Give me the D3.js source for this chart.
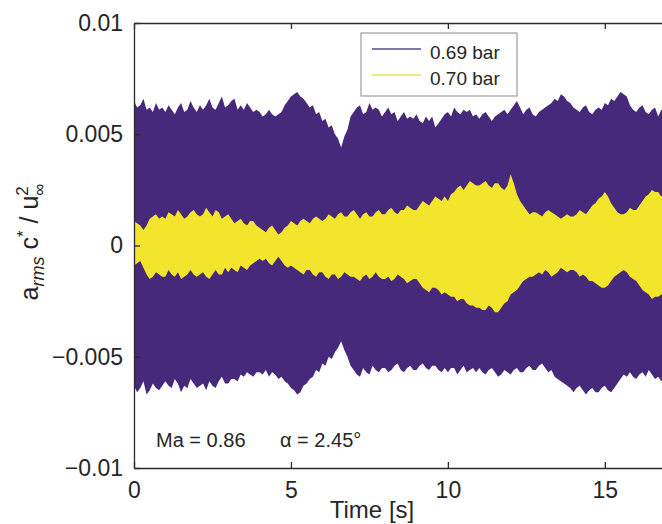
<!DOCTYPE html>
<html>
<head>
<meta charset="utf-8">
<script src="https://cdn.jsdelivr.net/npm/d3@7"></script>
<style>
  body { margin: 0; background: #fff; }
  svg { display: block; font-family: "Liberation Sans", Arial, sans-serif; }
</style>
</head>
<body>
<svg id="chart"></svg>
<script>
// envelope samples every 0.1 s, values in units of 1e-3 (a_rms c* / u^2)
const sampleStep = 0.1;
const valueUnit = 1e-3;

// 0.69 bar, upper / lower envelope (one row per second)
const upper069 = [
  6.5, 6.2, 6.3, 6.6, 6.1, 6.2, 6.0, 6.4, 6.1, 6.2,
  6.0, 6.3, 6.1, 5.9, 6.2, 6.4, 6.0, 6.1, 6.5, 6.2,
  6.0, 6.3, 6.1, 6.3, 6.6, 6.2, 6.1, 6.4, 6.7, 6.2,
  6.3, 6.5, 6.6, 6.1, 6.3, 6.1, 6.4, 6.2, 6.0, 6.1,
  6.0, 5.8, 5.9, 6.1, 5.9, 5.8, 5.9, 6.0, 6.3, 6.5,
  6.7, 6.8, 6.9, 6.7, 6.6, 6.4, 6.2, 6.3, 5.9, 6.0,
  5.6, 5.7, 5.3, 5.4, 5.0, 4.8, 4.4, 4.9, 5.2, 5.8,
  6.0, 6.2, 6.3, 5.9, 6.0, 6.4, 6.1, 6.2, 6.1, 5.8,
  6.0, 6.2, 5.9, 6.0, 5.6, 5.8, 6.0, 5.7, 5.8, 5.7,
  5.9, 5.6, 5.5, 5.8, 5.6, 5.8, 5.3, 5.5, 5.7, 5.9,
  6.0, 5.8, 6.2, 6.0, 5.9, 6.1, 6.0, 6.1, 5.8, 5.9,
  5.7, 5.9, 6.0, 5.8, 5.6, 5.8, 5.9, 6.0, 6.1, 5.9,
  6.1, 6.3, 6.5, 6.2, 5.9, 6.1, 6.2, 5.9, 5.8, 6.0,
  6.1, 6.2, 6.3, 6.4, 6.6, 6.5, 6.8, 6.7, 6.5, 6.4,
  6.2, 6.1, 6.0, 6.2, 6.3, 6.0, 5.9, 6.1, 6.2, 6.1,
  6.4, 6.3, 6.6, 6.5, 6.7, 6.9, 6.8, 6.7, 6.3, 6.1,
  6.0, 6.2, 6.3, 6.0, 5.9, 6.1, 6.2, 5.8, 6.1, 6.0,
  6.1];
const lower069 = [
  -6.3, -6.6, -6.4, -6.1, -6.7, -6.5, -6.2, -6.4, -6.5, -6.3,
  -6.1, -6.3, -6.4, -6.0, -6.2, -6.6, -6.3, -6.4, -6.0, -6.2,
  -6.4, -6.3, -6.2, -6.5, -6.1, -6.3, -6.4, -6.1, -5.9, -6.2,
  -6.2, -6.0, -6.0, -6.1, -5.8, -5.9, -5.7, -5.8, -5.9, -5.7,
  -5.7, -5.8, -5.6, -5.9, -5.7, -5.8, -6.0, -5.9, -6.1, -6.2,
  -6.4, -6.5, -6.7, -6.6, -6.3, -6.2, -6.0, -5.9, -5.6, -5.7,
  -5.3, -5.4, -5.0, -5.1, -4.8, -4.6, -4.3, -4.7, -5.0, -5.4,
  -5.6, -5.8, -5.9, -5.5, -5.7, -5.8, -5.4, -5.6, -5.7, -5.5,
  -5.5, -5.7, -5.6, -5.4, -5.3, -5.6, -5.7, -5.5, -5.4, -5.6,
  -5.6, -5.4, -5.3, -5.5, -5.6, -5.4, -5.4, -5.6, -5.7, -5.5,
  -5.7, -5.5, -5.5, -5.8, -5.6, -5.4, -5.7, -5.6, -5.5, -5.7,
  -5.5, -5.7, -5.8, -5.6, -5.5, -5.7, -5.9, -5.8, -5.6, -5.7,
  -5.8, -5.6, -5.5, -5.7, -5.7, -5.5, -5.4, -5.6, -5.6, -5.4,
  -5.3, -5.5, -5.7, -5.6, -5.9, -6.0, -6.1, -6.2, -6.3, -6.4,
  -6.6, -6.4, -6.3, -6.5, -6.7, -6.5, -6.4, -6.6, -6.6, -6.4,
  -6.3, -6.5, -6.6, -6.4, -6.2, -6.0, -5.8, -5.9, -5.7, -5.9,
  -6.0, -5.8, -5.7, -5.9, -5.6, -5.8, -6.0, -5.9, -6.1, -5.9,
  -6.0];

// 0.70 bar, upper / lower envelope
const upper070 = [
  1.1, 1.0, 0.9, 0.7, 0.9, 1.2, 1.3, 1.4, 1.2, 1.3,
  1.2, 1.5, 1.4, 1.3, 1.6, 1.4, 1.2, 1.3, 1.5, 1.6,
  1.4, 1.3, 1.4, 1.7, 1.5, 1.3, 1.6, 1.5, 1.2, 1.3,
  1.4, 1.2, 1.0, 1.1, 1.2, 1.0, 0.9, 1.1, 1.1, 0.9,
  0.8, 0.7, 0.6, 0.8, 0.9, 0.7, 0.5, 0.6, 0.8, 0.9,
  1.1, 1.0, 0.9, 1.1, 1.2, 1.1, 1.0, 1.2, 1.3, 1.2,
  1.1, 1.2, 1.4, 1.3, 1.2, 1.4, 1.5, 1.3, 1.3, 1.5,
  1.6, 1.4, 1.2, 1.4, 1.5, 1.3, 1.3, 1.5, 1.6, 1.4,
  1.4, 1.6, 1.7, 1.5, 1.4, 1.6, 1.6, 1.8, 1.7, 1.6,
  1.6, 1.8, 2.0, 1.9, 1.8, 2.0, 2.2, 2.1, 2.0, 2.2,
  2.0, 2.3, 2.4, 2.6, 2.7, 2.5, 2.7, 2.9, 2.8, 2.7,
  2.7, 2.8, 2.9, 2.7, 2.6, 2.8, 2.8, 2.6, 2.5, 2.7,
  3.2, 2.8, 2.3, 2.0, 1.8, 1.6, 1.4, 1.5, 1.5, 1.4,
  1.3, 1.5, 1.6, 1.5, 1.4, 1.3, 1.2, 1.3, 1.4, 1.3,
  1.3, 1.4, 1.6, 1.5, 1.4, 1.6, 1.8, 1.9, 2.1, 2.2,
  2.4, 2.2, 1.9, 1.7, 1.5, 1.4, 1.4, 1.5, 1.7, 1.6,
  1.6, 1.8, 2.0, 2.2, 2.3, 2.5, 2.4, 2.4, 2.2, 2.3,
  2.2];
const lower070 = [
  -0.9, -0.8, -0.7, -1.0, -1.3, -1.5, -1.4, -1.2, -1.3, -1.4,
  -1.4, -1.1, -1.3, -1.4, -1.2, -1.5, -1.4, -1.3, -1.1, -1.3,
  -1.4, -1.3, -1.2, -1.4, -1.5, -1.3, -1.1, -1.3, -1.3, -1.0,
  -1.2, -1.0, -1.1, -1.2, -0.9, -1.0, -1.1, -0.9, -0.8, -0.7,
  -0.6, -0.7, -0.6, -0.8, -0.9, -0.7, -0.5, -0.7, -0.9, -1.0,
  -0.9, -1.0, -1.1, -1.2, -1.3, -1.1, -1.1, -1.3, -1.4, -1.2,
  -1.2, -1.4, -1.5, -1.3, -1.3, -1.5, -1.4, -1.2, -1.3, -1.4,
  -1.4, -1.5, -1.6, -1.4, -1.3, -1.5, -1.4, -1.2, -1.4, -1.5,
  -1.5, -1.4, -1.6, -1.5, -1.3, -1.4, -1.5, -1.7, -1.6, -1.5,
  -1.5, -1.7, -1.9, -2.0, -2.1, -1.9, -1.9, -2.0, -2.2, -2.1,
  -2.2, -2.3, -2.3, -2.5, -2.4, -2.4, -2.6, -2.7, -2.7, -2.8,
  -2.8, -2.9, -2.9, -2.7, -2.8, -3.0, -3.0, -2.8, -2.6, -2.5,
  -2.2, -2.1, -2.0, -1.8, -1.6, -1.5, -1.4, -1.4, -1.3, -1.2,
  -1.3, -1.1, -1.2, -1.4, -1.3, -1.2, -1.0, -1.1, -1.2, -1.1,
  -1.1, -1.2, -1.4, -1.3, -1.4, -1.6, -1.6, -1.7, -1.8, -1.9,
  -1.9, -1.8, -1.6, -1.4, -1.3, -1.2, -1.1, -1.2, -1.4, -1.5,
  -1.6, -1.8, -2.0, -2.1, -2.2, -2.4, -2.3, -2.3, -2.2, -2.1,
  -2.1];

const seriesNames = ['0.69 bar', '0.70 bar'];
const seriesColors = ['#47297c', '#f3e42c'];
const legendLineColors = ['#7f78aa', '#eeea84'];

const xTicks = [0, 5, 10, 15];
const yTicks = [-0.01, -0.005, 0, 0.005, 0.01];
const yTickLabels = ['\u22120.01', '\u22120.005', '0', '0.005', '0.01'];

class EnvelopeChart {
  constructor(_config) {
    this.config = {
      parentElement: _config.parentElement,
      containerWidth: _config.containerWidth || 662,
      containerHeight: _config.containerHeight || 524,
      margin: _config.margin || {top: 23, left: 134, bottom: 56},
      plotWidth: _config.plotWidth || 565
    };
    this.initVis();
  }

  initVis() {
    let vis = this;
    const c = vis.config;
    vis.height = c.containerHeight - c.margin.top - c.margin.bottom;
    vis.width = c.plotWidth;

    vis.svg = d3.select(c.parentElement)
      .attr('width', c.containerWidth)
      .attr('height', c.containerHeight);

    vis.xScale = d3.scaleLinear().domain([0, 18]).range([0, vis.width]);
    vis.yScale = d3.scaleLinear().domain([-0.01, 0.01]).range([vis.height, 0]);

    vis.chart = vis.svg.append('g')
      .attr('transform', `translate(${c.margin.left},${c.margin.top})`);

    vis.svg.append('defs').append('clipPath').attr('id', 'plot-clip')
      .append('rect').attr('width', vis.width).attr('height', vis.height);

    vis.renderVis();
  }

  renderVis() {
    let vis = this;
    const area = d3.area()
      .x((d, i) => vis.xScale(i * sampleStep))
      .y0(d => vis.yScale(d[0] * valueUnit))
      .y1(d => vis.yScale(d[1] * valueUnit));

    const series = [d3.zip(lower069, upper069), d3.zip(lower070, upper070)];

    vis.chart.append('g').attr('clip-path', 'url(#plot-clip)')
      .selectAll('.band')
      .data(series)
      .join('path')
      .attr('class', 'band')
      .attr('d', area)
      .attr('fill', (d, i) => seriesColors[i]);

    // axes, MATLAB style: ticks pointing inwards
    const axisColor = '#2a2a2a';
    const xAxis = d3.axisBottom(vis.xScale).tickValues(xTicks).tickFormat(d3.format('d'))
      .tickSizeInner(-6).tickSizeOuter(0).tickPadding(14);
    const xAxisTop = d3.axisTop(vis.xScale).tickValues(xTicks).tickFormat('')
      .tickSizeInner(-6).tickSizeOuter(0);
    const yAxis = d3.axisLeft(vis.yScale).tickValues(yTicks)
      .tickFormat((d, i) => yTickLabels[i])
      .tickSizeInner(-6).tickSizeOuter(0).tickPadding(11);

    const xg = vis.chart.append('g').attr('transform', `translate(0,${vis.height})`).call(xAxis);
    const xtg = vis.chart.append('g').call(xAxisTop);
    const yg = vis.chart.append('g').call(yAxis);

    [xg, xtg, yg].forEach(g => {
      g.selectAll('path, line').attr('stroke', axisColor).attr('stroke-width', 1.3);
      g.selectAll('text').attr('fill', '#262626')
        .style('font-size', '23px').style('font-family', '"Liberation Sans", Arial, sans-serif');
    });

    // axis titles
    vis.svg.append('text')
      .attr('x', 372).attr('y', 518)
      .attr('text-anchor', 'middle')
      .attr('fill', '#262626')
      .style('font-size', '24px')
      .text('Time [s]');

    const yTitle = vis.svg.append('text')
      .attr('transform', 'translate(38,242) rotate(-90)')
      .attr('text-anchor', 'middle')
      .attr('fill', '#262626')
      .style('font-size', '25px');
    yTitle.append('tspan').text('a');
    yTitle.append('tspan').attr('dy', 6).style('font-size', '18px').style('font-style', 'italic').text('rms');
    yTitle.append('tspan').attr('dy', -6).text(' c');
    yTitle.append('tspan').attr('dy', -9).style('font-size', '17px').text('*');
    yTitle.append('tspan').attr('dy', 9).text(' / u');
    yTitle.append('tspan').attr('dy', -10).style('font-size', '17px').text('2');
    yTitle.append('tspan').attr('dx', -9.5).attr('dy', 17).style('font-size', '17px').text('\u221e');

    // annotation
    const note = vis.svg.append('g').attr('fill', '#262626').style('font-size', '20px');
    note.append('text').attr('x', 156).attr('y', 447).text('Ma = 0.86');
    note.append('text').attr('x', 280).attr('y', 447).text('\u03b1 = 2.45\u00b0');

    // legend
    const legend = vis.svg.append('g').attr('transform', 'translate(361,33)');
    legend.append('rect')
      .attr('width', 156).attr('height', 63)
      .attr('fill', '#fff').attr('stroke', '#8a8a8a').attr('stroke-width', 1);
    const entries = legend.selectAll('.entry')
      .data(seriesNames)
      .join('g')
      .attr('class', 'entry')
      .attr('transform', (d, i) => `translate(0,${16 + i * 26})`);
    entries.append('line')
      .attr('x1', 11).attr('x2', 60)
      .attr('stroke', (d, i) => legendLineColors[i])
      .attr('stroke-width', 2);
    entries.append('text')
      .attr('x', 69).attr('y', 10)
      .attr('fill', '#262626')
      .style('font-size', '19px')
      .text(d => d);
  }
}

new EnvelopeChart({parentElement: '#chart'});
</script>
</body>
</html>
